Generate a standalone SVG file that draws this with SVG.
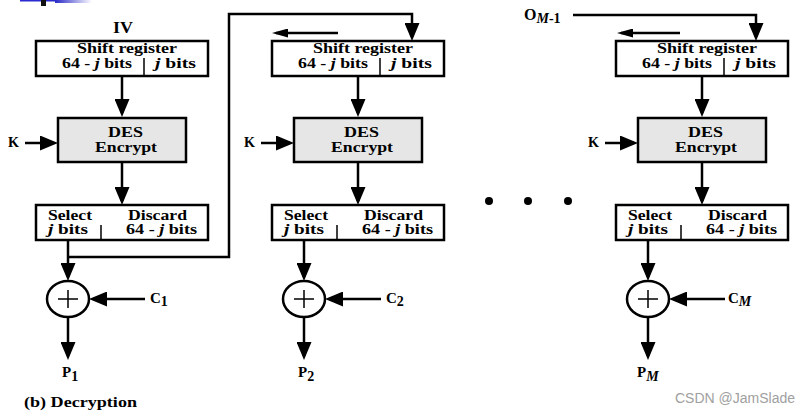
<svg xmlns="http://www.w3.org/2000/svg" width="803" height="415" viewBox="0 0 803 415">
<style>
.t{font-family:"Liberation Serif","Times New Roman",serif;font-weight:bold;fill:#000}
.f13{font-size:14px}
.f14{font-size:15px}
.f15{font-size:16px}
.box{fill:#fff;stroke:#000;stroke-width:2.5}
.des{fill:#e6e6e6;stroke:#000;stroke-width:2.5}
.ln{fill:none;stroke:#000;stroke-width:2.5}
.thin{fill:none;stroke:#000;stroke-width:1.5}
.xor{fill:#fff;stroke:#000;stroke-width:2.5}
.i{font-style:italic}
.wm{font-family:"Liberation Sans",Arial,sans-serif;font-size:14px;fill:#a0a0a0}
</style>
<defs>
<marker id="ah" markerUnits="userSpaceOnUse" markerWidth="18" markerHeight="15" refX="14" refY="7.5" orient="auto"><path d="M0,0 L18,7.5 L0,15 z" fill="#000"/></marker>
<marker id="as" markerUnits="userSpaceOnUse" markerWidth="16" markerHeight="9" refX="12" refY="4.5" orient="auto"><path d="M0,0 L16,4.5 L0,9 z" fill="#000"/></marker>
<linearGradient id="gb" x1="0" y1="0" x2="1" y2="0"><stop offset="0" stop-color="#2a2ac8"/><stop offset="1" stop-color="#ffffff"/></linearGradient>
</defs>
<rect width="803" height="415" fill="#fff"/>
<g id="corner">
<rect x="20" y="0" width="35" height="1.5" fill="#2a2ad0"/>
<rect x="55" y="0" width="37" height="3" fill="url(#gb)"/>
<rect x="41" y="0" width="5" height="6" fill="#111"/>
</g>
<g id="connectors">
<path class="ln" d="M122,76 V113" marker-end="url(#ah)"/>
<path class="ln" d="M122,162 V201" marker-end="url(#ah)"/>
<path class="ln" d="M25,143 H54" marker-end="url(#ah)"/>
<path class="ln" d="M68,240 V277" marker-end="url(#ah)"/>
<path class="ln" d="M145,299 H93" marker-end="url(#ah)"/>
<path class="ln" d="M68,317 V356" marker-end="url(#ah)"/>
<path class="ln" d="M68,257 H229 V14 H412 V37" marker-end="url(#ah)"/>
<path class="ln" d="M358,76 V113" marker-end="url(#ah)"/>
<path class="ln" d="M358,162 V201" marker-end="url(#ah)"/>
<path class="ln" d="M261,143 H290" marker-end="url(#ah)"/>
<path class="ln" d="M304,240 V277" marker-end="url(#ah)"/>
<path class="ln" d="M381,299 H329" marker-end="url(#ah)"/>
<path class="ln" d="M304,317 V356" marker-end="url(#ah)"/>
<path class="ln" d="M338,33 H276" marker-end="url(#as)"/>
<path class="ln" d="M702,76 V113" marker-end="url(#ah)"/>
<path class="ln" d="M702,162 V201" marker-end="url(#ah)"/>
<path class="ln" d="M605,143 H634" marker-end="url(#ah)"/>
<path class="ln" d="M648,240 V277" marker-end="url(#ah)"/>
<path class="ln" d="M725,299 H673" marker-end="url(#ah)"/>
<path class="ln" d="M648,317 V356" marker-end="url(#ah)"/>
<path class="ln" d="M573,15 H756 V37" marker-end="url(#ah)"/>
<path class="ln" d="M680,33 H621" marker-end="url(#as)"/>
</g>
<g id="iv"><text class="t f15" x="113" y="33" textLength="20" lengthAdjust="spacingAndGlyphs">IV</text></g>
<g id="om1"><text class="t f15" x="524" y="20">O<tspan class="i" font-size="14" dy="3">M</tspan><tspan font-size="14">-1</tspan></text></g>
<g id="sr1">
<rect class="box" x="36" y="41" width="172" height="35"/>
<line class="thin" x1="144" y1="58" x2="144" y2="76"/>
<text class="t f13" x="77" y="53" textLength="100" lengthAdjust="spacingAndGlyphs">Shift register</text>
<text class="t f13" x="62" y="68" textLength="70" lengthAdjust="spacingAndGlyphs">64 - <tspan class="i">j</tspan> bits</text>
<text class="t f13" x="155" y="68" textLength="41" lengthAdjust="spacingAndGlyphs"><tspan class="i">j</tspan> bits</text>
</g>
<g id="des1">
<rect class="des" x="58" y="118" width="128" height="44"/>
<text class="t f14" x="108" y="137" textLength="35" lengthAdjust="spacingAndGlyphs">DES</text>
<text class="t f14" x="95" y="152" textLength="62" lengthAdjust="spacingAndGlyphs">Encrypt</text>
</g>
<g id="k1"><text class="t f14" x="8" y="147" textLength="11" lengthAdjust="spacingAndGlyphs">K</text></g>
<g id="sel1">
<rect class="box" x="36" y="205" width="172" height="35"/>
<line class="thin" x1="101" y1="225" x2="101" y2="240"/>
<text class="t f13" x="48" y="220" textLength="44" lengthAdjust="spacingAndGlyphs">Select</text>
<text class="t f13" x="48" y="234" textLength="40" lengthAdjust="spacingAndGlyphs"><tspan class="i">j</tspan> bits</text>
<text class="t f13" x="128" y="220" textLength="59" lengthAdjust="spacingAndGlyphs">Discard</text>
<text class="t f13" x="126" y="234" textLength="71" lengthAdjust="spacingAndGlyphs">64 - <tspan class="i">j</tspan> bits</text>
</g>
<g id="xor1">
<ellipse class="xor" cx="68" cy="299" rx="21" ry="18"/>
<path class="thin" stroke-width="2" d="M58,299 H78 M68,290 V308"/>
</g>
<g id="c1"><text class="t f14" x="150" y="303">C<tspan font-size="14" dy="3">1</tspan></text></g>
<g id="p1"><text class="t f14" x="62" y="377">P<tspan font-size="14" dy="4">1</tspan></text></g>
<g id="sr2">
<rect class="box" x="272" y="41" width="172" height="35"/>
<line class="thin" x1="380" y1="58" x2="380" y2="76"/>
<text class="t f13" x="313" y="53" textLength="100" lengthAdjust="spacingAndGlyphs">Shift register</text>
<text class="t f13" x="298" y="68" textLength="70" lengthAdjust="spacingAndGlyphs">64 - <tspan class="i">j</tspan> bits</text>
<text class="t f13" x="391" y="68" textLength="41" lengthAdjust="spacingAndGlyphs"><tspan class="i">j</tspan> bits</text>
</g>
<g id="des2">
<rect class="des" x="294" y="118" width="128" height="44"/>
<text class="t f14" x="344" y="137" textLength="35" lengthAdjust="spacingAndGlyphs">DES</text>
<text class="t f14" x="331" y="152" textLength="62" lengthAdjust="spacingAndGlyphs">Encrypt</text>
</g>
<g id="k2"><text class="t f14" x="244" y="147" textLength="11" lengthAdjust="spacingAndGlyphs">K</text></g>
<g id="sel2">
<rect class="box" x="272" y="205" width="172" height="35"/>
<line class="thin" x1="337" y1="225" x2="337" y2="240"/>
<text class="t f13" x="284" y="220" textLength="44" lengthAdjust="spacingAndGlyphs">Select</text>
<text class="t f13" x="284" y="234" textLength="40" lengthAdjust="spacingAndGlyphs"><tspan class="i">j</tspan> bits</text>
<text class="t f13" x="364" y="220" textLength="59" lengthAdjust="spacingAndGlyphs">Discard</text>
<text class="t f13" x="362" y="234" textLength="71" lengthAdjust="spacingAndGlyphs">64 - <tspan class="i">j</tspan> bits</text>
</g>
<g id="xor2">
<ellipse class="xor" cx="304" cy="299" rx="21" ry="18"/>
<path class="thin" stroke-width="2" d="M294,299 H314 M304,290 V308"/>
</g>
<g id="c2"><text class="t f14" x="386" y="303">C<tspan font-size="14" dy="3">2</tspan></text></g>
<g id="p2"><text class="t f14" x="298" y="377">P<tspan font-size="14" dy="4">2</tspan></text></g>
<g id="dots">
<circle cx="489" cy="201" r="4"/>
<circle cx="528" cy="201" r="4"/>
<circle cx="568" cy="201" r="4"/>
</g>
<g id="sr3">
<rect class="box" x="616" y="41" width="172" height="35"/>
<line class="thin" x1="724" y1="58" x2="724" y2="76"/>
<text class="t f13" x="657" y="53" textLength="100" lengthAdjust="spacingAndGlyphs">Shift register</text>
<text class="t f13" x="642" y="68" textLength="70" lengthAdjust="spacingAndGlyphs">64 - <tspan class="i">j</tspan> bits</text>
<text class="t f13" x="735" y="68" textLength="41" lengthAdjust="spacingAndGlyphs"><tspan class="i">j</tspan> bits</text>
</g>
<g id="des3">
<rect class="des" x="638" y="118" width="128" height="44"/>
<text class="t f14" x="688" y="137" textLength="35" lengthAdjust="spacingAndGlyphs">DES</text>
<text class="t f14" x="675" y="152" textLength="62" lengthAdjust="spacingAndGlyphs">Encrypt</text>
</g>
<g id="k3"><text class="t f14" x="588" y="147" textLength="11" lengthAdjust="spacingAndGlyphs">K</text></g>
<g id="sel3">
<rect class="box" x="616" y="205" width="172" height="35"/>
<line class="thin" x1="681" y1="225" x2="681" y2="240"/>
<text class="t f13" x="628" y="220" textLength="44" lengthAdjust="spacingAndGlyphs">Select</text>
<text class="t f13" x="628" y="234" textLength="40" lengthAdjust="spacingAndGlyphs"><tspan class="i">j</tspan> bits</text>
<text class="t f13" x="708" y="220" textLength="59" lengthAdjust="spacingAndGlyphs">Discard</text>
<text class="t f13" x="706" y="234" textLength="71" lengthAdjust="spacingAndGlyphs">64 - <tspan class="i">j</tspan> bits</text>
</g>
<g id="xor3">
<ellipse class="xor" cx="648" cy="299" rx="21" ry="18"/>
<path class="thin" stroke-width="2" d="M638,299 H658 M648,290 V308"/>
</g>
<g id="cm"><text class="t f14" x="728" y="303">C<tspan class="i" font-size="14" dy="3">M</tspan></text></g>
<g id="pm"><text class="t f14" x="637" y="377">P<tspan class="i" font-size="14" dy="4">M</tspan></text></g>
<g id="caption"><text class="t f14" x="24" y="407" textLength="113" lengthAdjust="spacingAndGlyphs">(b) Decryption</text></g>
<g id="watermark"><text class="wm" x="675" y="403">CSDN @JamSlade</text></g>
</svg>
